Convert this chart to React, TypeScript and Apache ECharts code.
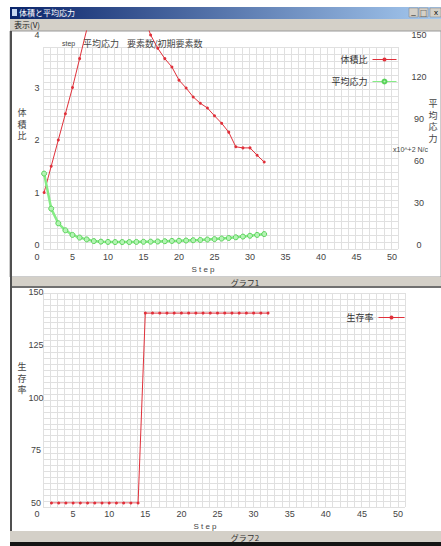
import React, { useEffect, useRef } from "react";
import * as echarts from "echarts";

// ---- data ----
const volSteps = [1, 2, 3, 4, 5, 6, 7, 8, 9, 10, 11, 12, 13, 14, 15, 16, 17, 18, 19, 20, 21, 22, 23, 24, 25, 26, 27, 28, 29, 30, 31, 32];
const volRatio = [1.0, 1.5, 2.0, 2.5, 3.0, 3.55, 4.1, 4.6, 5.0, 5.3, 5.4, 5.3, 5.0, 4.7, 4.4, 4.0, 3.75, 3.55, 3.39, 3.14, 2.99, 2.82, 2.7, 2.61, 2.46, 2.32, 2.15, 1.87, 1.85, 1.85, 1.71, 1.58];
const avgStress = [51, 26, 15.5, 10.5, 7.2, 5.3, 4.0, 2.8, 2.4, 2.2, 2.1, 2.1, 2.1, 2.2, 2.3, 2.4, 2.5, 2.7, 2.9, 3.0, 3.2, 3.4, 3.6, 3.9, 4.2, 4.6, 5.0, 5.5, 6.0, 6.6, 7.2, 7.8];
const survSteps = [2, 3, 4, 5, 6, 7, 8, 9, 10, 11, 12, 13, 14, 15, 16, 17, 18, 19, 20, 21, 22, 23, 24, 25, 26, 27, 28, 29, 30, 31, 32];
const survRate = [50, 50, 50, 50, 50, 50, 50, 50, 50, 50, 50, 50, 50, 140, 140, 140, 140, 140, 140, 140, 140, 140, 140, 140, 140, 140, 140, 140, 140, 140, 140];
const leftTicks = [0, 1, 2, 3, 4];
const rightTicks = [0, 30, 60, 90, 120, 150];

const FONT = "'Noto Sans CJK JP', 'DejaVu Sans', sans-serif";
const NUMFONT = "'Liberation Sans', 'DejaVu Sans', sans-serif";
const LABEL = "#444";
const GRIDC = "#e0e0e0";
const RED = "#e0303a";
const GREEN = "#86ec86";
const GREY = "#d4d0c8";

const decoX = (g: number) => ({
  gridIndex: g, type: "value", min: 0, max: 50, interval: 1,
  axisLine: { show: false }, axisTick: { show: false }, axisLabel: { show: false },
  splitLine: { show: true, lineStyle: { color: GRIDC, width: 1 } },
});
const decoY = (g: number, rows: number) => ({
  gridIndex: g, type: "value", min: 0, max: rows, interval: 1,
  axisLine: { show: false }, axisTick: { show: false }, axisLabel: { show: false },
  splitLine: { show: true, lineStyle: { color: GRIDC, width: 1 } },
});
const numLabel = (o: any) => ({ fontSize: 9, lineHeight: 9, color: LABEL, fontFamily: NUMFONT, ...o });

export default function App() {
  const ref = useRef<HTMLDivElement>(null);
  useEffect(() => {
    if (!ref.current) return;
    const chart = echarts.init(ref.current, undefined, { renderer: "svg" });
    const txt = (x: number, y: number, text: string, o: any = {}) => ({
      type: "text", x, y, z: 50,
      style: { text, fontSize: 9, lineHeight: 10, fontFamily: FONT, fill: LABEL, textVerticalAlign: "middle", ...o },
    });
    const rect = (x: number, y: number, w: number, h: number, fill: any, z = -10, o: any = {}) => ({
      type: "rect", z, shape: { x, y, width: w, height: h }, style: { fill, ...o }, silent: true,
    });
    const option: any = {
      animation: false,
      textStyle: { fontFamily: FONT },
      grid: [
        { left: 43, top: 47, width: 355, height: 202 },
        { left: 37, top: 31, width: 355, height: 214 },
        { left: 43, top: 293, width: 362, height: 214 },
        { left: 37, top: 292, width: 361, height: 211 },
      ],
      xAxis: [
        decoX(0),
        {
          gridIndex: 1, type: "value", min: 0, max: 50, interval: 5,
          axisLine: { show: false }, axisTick: { show: false }, splitLine: { show: false },
          axisLabel: numLabel({ margin: 7 }),
        },
        decoX(2),
        {
          gridIndex: 3, type: "value", min: 0, max: 50, interval: 5,
          axisLine: { show: false }, axisTick: { show: false }, splitLine: { show: false },
          axisLabel: numLabel({ margin: 6 }),
        },
      ],
      yAxis: [
        decoY(0, 29),
        {
          gridIndex: 1, type: "value", min: 0, max: 214 / 52.5, interval: 1,
          axisLine: { show: false }, axisTick: { show: false }, splitLine: { show: false },
          axisLabel: numLabel({ margin: 0, align: "center", customValues: leftTicks }),
        },
        {
          gridIndex: 1, type: "value", position: "right", min: 0, max: 214 / 1.4, interval: 30,
          axisLine: { show: false }, axisTick: { show: false }, splitLine: { show: false },
          axisLabel: numLabel({ margin: 27, align: "center", customValues: rightTicks }),
        },
        decoY(2, 36),
        {
          gridIndex: 3, type: "value", min: 50, max: 150, interval: 25,
          axisLine: { show: false }, axisTick: { show: false }, splitLine: { show: false },
          axisLabel: numLabel({ margin: 1, align: "center" }),
        },
      ],
      legend: [
        {
          data: ["体積比", "平均応力"], orient: "vertical", right: 39, top: 50, align: "right",
          itemWidth: 24, itemHeight: 5, itemGap: 13,
          lineStyle: { width: 1 },
          textStyle: { fontSize: 9, color: "#333", fontFamily: FONT },
        },
        {
          data: ["生存率"], orient: "vertical", right: 31, top: 308, align: "right",
          itemWidth: 26, itemHeight: 5,
          lineStyle: { width: 1 },
          textStyle: { fontSize: 9, color: "#333", fontFamily: FONT },
        },
      ],
      series: [
        {
          name: "体積比", type: "line", xAxisIndex: 1, yAxisIndex: 1, clip: true,
          data: volSteps.map((s, i) => [s, volRatio[i]]),
          color: RED, lineStyle: { width: 1, color: RED },
          symbol: "circle", symbolSize: 3, itemStyle: { color: RED },
        },
        {
          name: "平均応力", type: "line", xAxisIndex: 1, yAxisIndex: 2, clip: true,
          data: volSteps.map((s, i) => [s, avgStress[i]]),
          color: GREEN, lineStyle: { width: 2.5, color: GREEN },
          symbol: "circle", symbolSize: 5, itemStyle: { color: "#b4f4b4", borderColor: "#5ad25a", borderWidth: 1 },
        },
        {
          name: "生存率", type: "line", xAxisIndex: 3, yAxisIndex: 4, clip: true,
          data: survSteps.map((s, i) => [s, survRate[i]]),
          color: RED, lineStyle: { width: 1, color: RED },
          symbol: "circle", symbolSize: 3, itemStyle: { color: RED },
        },
      ],
      graphic: [
        // window chrome
        rect(10, 7, 431, 12, new echarts.graphic.LinearGradient(0, 0, 1, 0, [
          { offset: 0, color: "#0a246a" }, { offset: 1, color: "#a6caf0" },
        ])),
        rect(12, 9, 5, 7, "#c8d8f0", -9),
        txt(19, 12.2, "体積と平均応力", { fill: "#ffffff", fontSize: 8 }),
        rect(409, 8, 9, 9, GREY, -9, { stroke: "#808080", lineWidth: 0.5 }),
        rect(419, 8, 9, 9, GREY, -9, { stroke: "#808080", lineWidth: 0.5 }),
        rect(430, 8, 11, 9, GREY, -9, { stroke: "#808080", lineWidth: 0.5 }),
        txt(413.5, 11.5, "_", { fill: "#000", fontSize: 8, align: "center", fontFamily: NUMFONT }),
        txt(423.5, 12.5, "□", { fill: "#000", fontSize: 7, align: "center" }),
        txt(436, 12.5, "x", { fill: "#000", fontSize: 8, align: "center", fontFamily: NUMFONT }),
        rect(10, 19, 431, 12, GREY),
        txt(14, 24, "表示(V)", { fill: "#222", fontSize: 8, lineHeight: 9 }),
        rect(10, 31, 431, 246, "#ffffff", -10, { stroke: "#9a9a9a", lineWidth: 1 }),
        rect(10, 277, 431, 11, GREY),
        rect(10, 286, 431, 2, "#707070", -9),
        rect(10, 288, 431, 243, "#ffffff"),
        rect(10, 531, 431, 11, GREY),
        rect(10, 542, 431, 4, "#151515", -9),
        rect(10, 31, 2, 500, "#505050", -9),
        txt(245, 282.5, "グラフ1", { align: "center", fontSize: 8, fill: "#333" }),
        txt(245, 537, "グラフ2", { align: "center", fontSize: 8, fill: "#333" }),
        // chart texts
        txt(62, 43, "step", { fontSize: 7, fontFamily: NUMFONT }),
        txt(83, 43, "平均応力", { fontSize: 9 }),
        txt(127, 43, "要素数/初期要素数", { fontSize: 9 }),
        txt(22, 124, "体\n積\n比", { align: "center", lineHeight: 11.5, fontSize: 9 }),
        txt(433, 121, "平\n均\n応\n力", { align: "center", lineHeight: 11.5, fontSize: 9 }),
        txt(393, 149.5, "x10^+2 N/c", { fontSize: 7, lineHeight: 7, fontFamily: NUMFONT }),
        txt(22, 378, "生\n存\n率", { align: "center", lineHeight: 11.5, fontSize: 9 }),
        txt(203, 269, "S t e p", { align: "center", fontSize: 8, fontFamily: NUMFONT }),
        txt(205, 526, "S t e p", { align: "center", fontSize: 8, fontFamily: NUMFONT }),
      ],
    };
    chart.setOption(option);
    return () => chart.dispose();
  }, []);
  return (
    <div style={{ position: "fixed", left: 0, top: 0, width: 441, height: 546, background: "#ffffff" }}>
      <div ref={ref} style={{ width: 441, height: 546 }} />
    </div>
  );
}
